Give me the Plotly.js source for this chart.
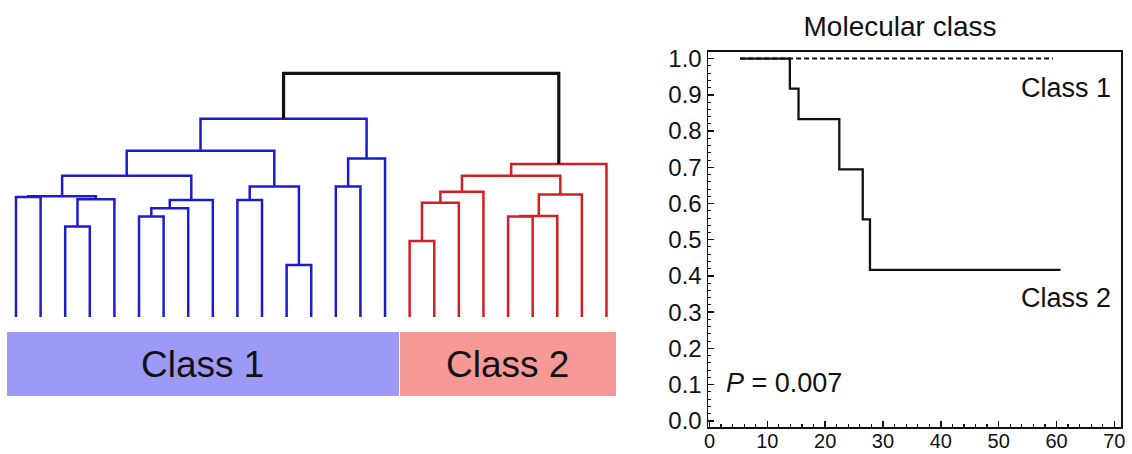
<!DOCTYPE html>
<html><head><meta charset="utf-8">
<script src="https://cdn.plot.ly/plotly-3.0.1.min.js"></script>
<style>html,body{margin:0;padding:0;background:#fff}#chart{width:1132px;height:454px}</style>
</head><body><div id="chart"></div>
<script>
// ---------- data ----------
const classNames = ['Class 1', 'Class 2'];
const classSizes = [16, 9];
// hierarchical clustering merges (leaves 0..24 in display order, new nodes numbered from 25)
const mergeLeft   = [0, 2, 26, 25, 5, 29, 30, 28, 9, 11, 33, 32, 13, 37, 36, 16, 40, 41, 20, 43, 44, 42, 46, 39];
const mergeRight  = [1, 3, 4, 27, 6, 7, 8, 31, 10, 12, 34, 35, 14, 15, 38, 17, 18, 19, 21, 22, 23, 45, 24, 47];
const mergeHeight = [0.492, 0.371, 0.483, 0.495, 0.412, 0.446, 0.480, 0.580, 0.480, 0.213, 0.535, 0.682,
                     0.535, 0.650, 0.814, 0.312, 0.469, 0.514, 0.412, 0.414, 0.503, 0.580, 0.628, 1.000];
// Kaplan-Meier curves
const kmClass1Time = [5.3, 59.4];
const kmClass1Surv = [1.0, 1.0];
const kmClass2Time = [5.3, 13.9, 15.4, 22.45, 26.5, 27.75, 60.7];
const kmClass2Surv = [1.0, 0.917, 0.833, 0.694, 0.556, 0.417, 0.417];
const kmTitle = 'Molecular class';
const pValueLabel = '<i>P</i> = 0.007';

// ---------- styles ----------
const FONT = 'Liberation Sans, Arial, Helvetica, sans-serif';
const W = 1132, H = 454;
const classLineColors = ['#1c1cd0', '#d41e24'];
const rootColor = '#111111';
const classBarColors = ['#9d99f7', '#f69896'];

// ---------- dendrogram geometry from merges ----------
const nodeX = [], nodeH = [], nodeCls = [];
let acc = 0;
classSizes.forEach((s, ci) => { for (let i = 0; i < s; i++) { nodeX.push(acc + i); nodeH.push(0); nodeCls.push(ci); } acc += s; });
const segs = {};
mergeLeft.forEach((a, k) => {
  const b = mergeRight[k], h = mergeHeight[k];
  const cls = nodeCls[a] === nodeCls[b] ? nodeCls[a] : -1;
  const key = String(cls);
  if (!segs[key]) segs[key] = {x: [], y: []};
  segs[key].x.push(nodeX[a], nodeX[a], nodeX[b], nodeX[b], null);
  segs[key].y.push(nodeH[a], h, h, nodeH[b], null);
  nodeX.push((nodeX[a] + nodeX[b]) / 2); nodeH.push(h); nodeCls.push(cls);
});
const traces = [];
Object.keys(segs).forEach(key => {
  const ci = Number(key);
  traces.push({
    type: 'scatter', mode: 'lines', x: segs[key].x, y: segs[key].y, xaxis: 'x', yaxis: 'y',
    line: {color: ci < 0 ? rootColor : classLineColors[ci], width: ci < 0 ? 3.2 : 2.5},
    hoverinfo: 'skip', connectgaps: false
  });
});

// ---------- class bar ----------
const barStart = [], barEnd = [];
acc = 0;
classSizes.forEach((s, ci) => {
  const first = acc, last = acc + s - 1;
  barStart.push(ci === 0 ? first - 0.37 : first - 0.38);
  barEnd.push(ci === classSizes.length - 1 ? last + 0.37 : last + 0.55);
  acc += s;
});
traces.push({
  type: 'bar', xaxis: 'x', yaxis: 'y3',
  x: barStart.map((s, i) => (s + barEnd[i]) / 2),
  width: barStart.map((s, i) => barEnd[i] - s),
  y: classSizes.map(() => 1), base: 0,
  marker: {color: classBarColors, line: {width: 0}},
  hoverinfo: 'skip'
});

// ---------- KM curves ----------
traces.push({
  type: 'scatter', mode: 'lines', x: kmClass1Time, y: kmClass1Surv, xaxis: 'x2', yaxis: 'y2',
  line: {color: '#111', width: 2, dash: '5px,3px'}, hoverinfo: 'skip'
});
traces.push({
  type: 'scatter', mode: 'lines', x: kmClass2Time, y: kmClass2Surv, xaxis: 'x2', yaxis: 'y2',
  line: {color: '#111', width: 2.3, shape: 'hv'}, hoverinfo: 'skip'
});

// ---------- layout ----------
const px2x = p => p / W, px2y = p => 1 - p / H;
const hidden = {visible: false, showgrid: false, zeroline: false, fixedrange: true};
const annotations = [];
classNames.forEach((c, i) => {
  annotations.push({xref: 'x', yref: 'y3', x: (barStart[i] + barEnd[i]) / 2, y: 0.5, text: c, showarrow: false,
    font: {family: FONT, size: 37, color: '#111'}, xanchor: 'center', yanchor: 'middle'});
});
annotations.push({xref: 'paper', yref: 'paper', x: px2x(1113), y: px2y(88), text: classNames[0], showarrow: false,
  xanchor: 'right', yanchor: 'middle', font: {family: FONT, size: 27, color: '#111'}});
annotations.push({xref: 'paper', yref: 'paper', x: px2x(1113), y: px2y(298), text: classNames[1], showarrow: false,
  xanchor: 'right', yanchor: 'middle', font: {family: FONT, size: 27, color: '#111'}});
annotations.push({xref: 'paper', yref: 'paper', x: px2x(724), y: px2y(383), text: pValueLabel, showarrow: false,
  xanchor: 'left', yanchor: 'middle', font: {family: FONT, size: 27, color: '#111'}});

const layout = {
  width: W, height: H, margin: {l: 0, r: 0, t: 0, b: 0},
  paper_bgcolor: '#fff', plot_bgcolor: 'rgba(0,0,0,0)', showlegend: false,
  title: {text: kmTitle, x: px2x(900), xanchor: 'center', y: px2y(26), yanchor: 'middle', xref: 'paper', yref: 'paper',
          font: {family: FONT, size: 28, color: '#111'}},
  font: {family: FONT, color: '#111'},
  bargap: 0,
  xaxis: Object.assign({}, hidden, {domain: [0, 620 / W], range: [-0.65, 24.55]}),
  yaxis: Object.assign({}, hidden, {domain: [px2y(330), px2y(60)], range: [-13 / 243.7, 257 / 243.7]}),
  yaxis3: Object.assign({}, hidden, {domain: [px2y(396), px2y(332)], range: [0, 1], anchor: 'x'}),
  xaxis2: {
    domain: [px2x(708.3), px2x(1121)], range: [-0.2, 71.15], anchor: 'y2',
    showgrid: false, zeroline: false, showline: true, mirror: true, linecolor: '#111', linewidth: 1.8,
    ticks: 'inside', ticklen: 6, tickwidth: 1.5, tickcolor: '#111', dtick: 10, tick0: 0,
    minor: {ticks: 'inside', ticklen: 3, dtick: 2, tickcolor: '#111', tickwidth: 1.2},
    ticklabelstandoff: -5,
    tickfont: {family: FONT, size: 20, color: '#111'}, fixedrange: true
  },
  yaxis2: {
    domain: [px2y(426.7), px2y(51.7)], range: [-0.016, 1.019], anchor: 'x2',
    showgrid: false, zeroline: false, showline: true, mirror: true, linecolor: '#111', linewidth: 1.8,
    ticks: 'inside', ticklen: 6, tickwidth: 1.5, tickcolor: '#111', dtick: 0.1, tick0: 0, tickformat: '.1f',
    minor: {ticks: 'inside', ticklen: 3, dtick: 0.02, tickcolor: '#111', tickwidth: 1},
    tickfont: {family: FONT, size: 24, color: '#111'}, fixedrange: true
  },
  annotations: annotations
};

Plotly.newPlot('chart', traces, layout, {displayModeBar: false, staticPlot: true});
</script>
</body></html>
